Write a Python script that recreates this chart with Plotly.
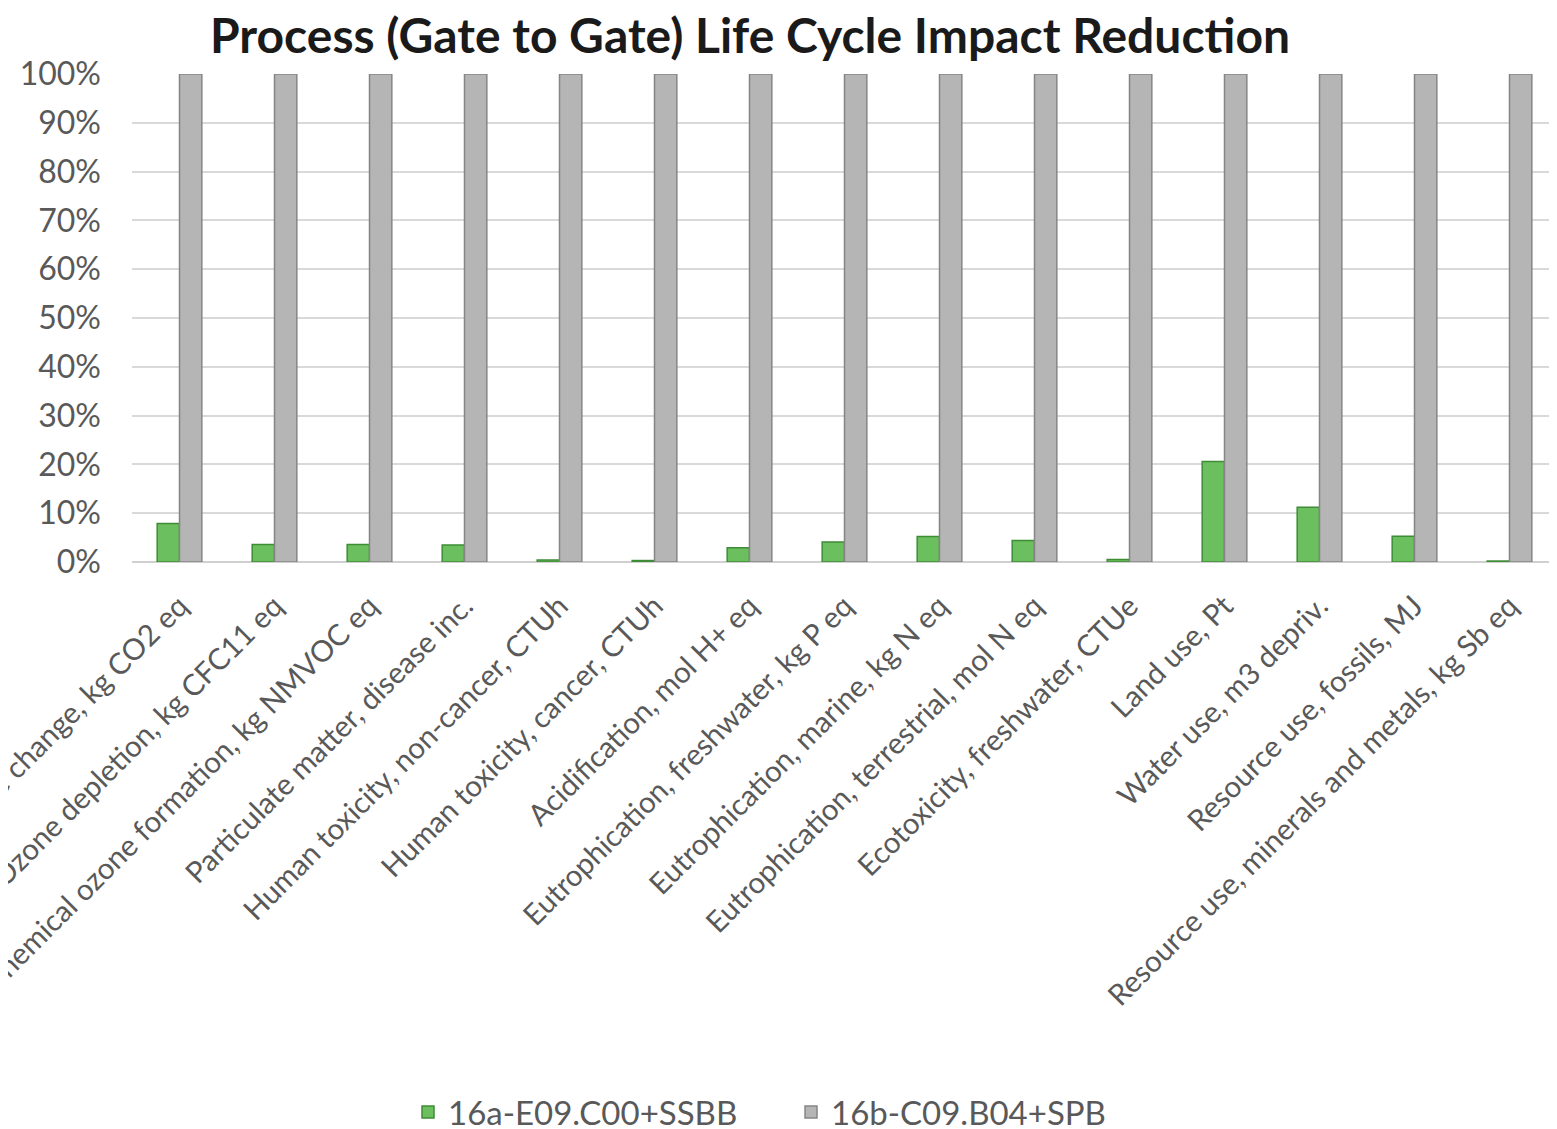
import plotly.graph_objects as go

categories = [
    'Climate change, kg CO2 eq',
    'Ozone depletion, kg CFC11 eq',
    'Photochemical ozone formation, kg NMVOC eq',
    'Particulate matter, disease inc.',
    'Human toxicity, non-cancer, CTUh',
    'Human toxicity, cancer, CTUh',
    'Acidification, mol H+ eq',
    'Eutrophication, freshwater, kg P eq',
    'Eutrophication, marine, kg N eq',
    'Eutrophication, terrestrial, mol N eq',
    'Ecotoxicity, freshwater, CTUe',
    'Land use, Pt',
    'Water use, m3 depriv.',
    'Resource use, fossils, MJ',
    'Resource use, minerals and metals, kg Sb eq',
]

# share of the reference process (16b = 100%)
series_16a = [0.079, 0.036, 0.036, 0.035, 0.004, 0.003, 0.029, 0.041, 0.052, 0.044, 0.005, 0.206, 0.112, 0.053, 0.002]
series_16b = [1.0] * 15

name_16a = '16a-E09.C00+SSBB'
name_16b = '16b-C09.B04+SPB'

y_ticks = [i / 10 for i in range(11)]

fig = go.Figure()
fig.add_trace(go.Bar(
    x=categories, y=series_16a, name=name_16a,
    marker=dict(color='#6cbf5e', line=dict(color='#3f8c37', width=1.5))
))
fig.add_trace(go.Bar(
    x=categories, y=series_16b, name=name_16b,
    marker=dict(color='#b5b5b5', line=dict(color='#858585', width=1.5))
))

# page body adds an 8px offset, margins compensate for it
fig.update_layout(
    width=1557, height=1129,
    margin=dict(l=124, r=8, t=66, b=575),
    paper_bgcolor='white', plot_bgcolor='white',
    barmode='group', bargap=0.53, bargroupgap=0,
    font=dict(family='Lato, Open Sans, sans-serif', color='#595959'),
    title=dict(
        text='<b>Process (Gate to Gate) Life Cycle Impact Reduction</b>',
        x=742 / 1557, xanchor='center', xref='container',
        y=1 - 28 / 1129, yanchor='middle', yref='container',
        font=dict(size=48, color='#1a1a1a', family='Lato, sans-serif')
    ),
    legend=dict(
        orientation='h', x=400 / 1557, xanchor='left', xref='container',
        y=1 - 1104 / 1129, yanchor='middle', yref='container',
        font=dict(size=33, color='#595959'),
        itemwidth=30, traceorder='normal',
        entrywidth=338, entrywidthmode='pixels'
    ),
    showlegend=True,
)

fig.update_yaxes(
    range=[0, 1.0], tickvals=y_ticks, tickformat='.0%',
    showgrid=True, gridcolor='#d9d9d9', gridwidth=2,
    zeroline=True, zerolinecolor='#d0d0d0', zerolinewidth=2,
    tickfont=dict(size=32, color='#595959'),
    ticks='', automargin=False, ticklabelstandoff=30
)
fig.update_xaxes(
    tickangle=-45, tickfont=dict(size=29.5, color='#595959'),
    showgrid=False, showline=False, ticks='',
    automargin=False, ticklabelstandoff=20
)

fig.write_html('out.html')
